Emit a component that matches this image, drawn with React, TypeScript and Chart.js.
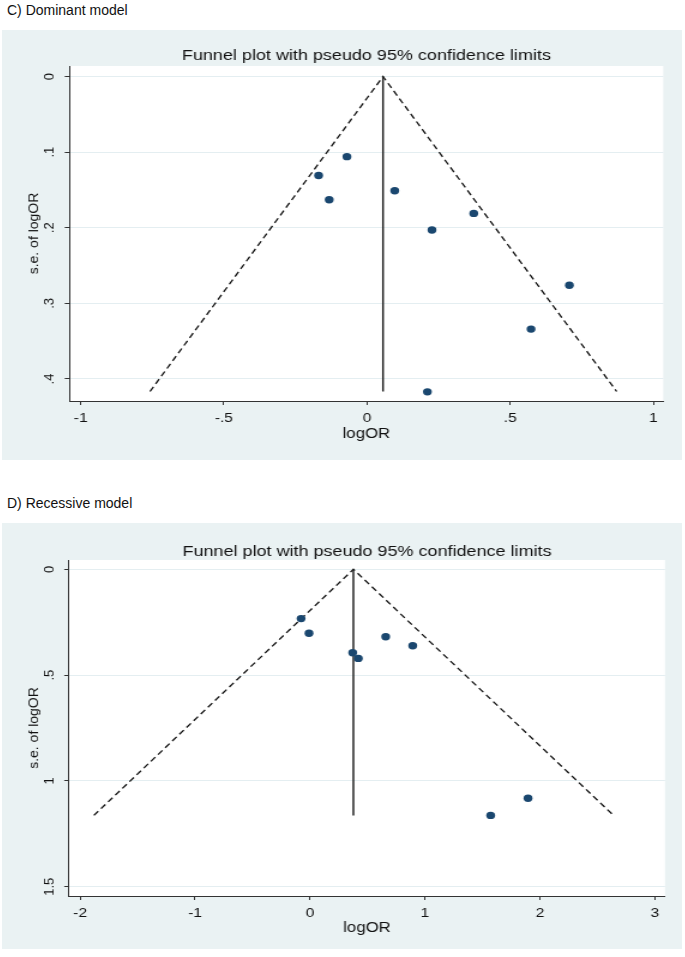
import { useEffect, useRef } from "react";
import { Chart, registerables } from "chart.js";

Chart.register(...registerables);

const FONT = '"Liberation Sans", Arial, Helvetica, sans-serif';
const CANVAS_W = 567;
const STRETCH = 680 / 567;

const plotTitle = "Funnel plot with pseudo 95% confidence limits";
const xAxisTitle = "logOR";
const yAxisTitle = "s.e. of logOR";

// ---- C) Dominant model ----
const domLabel = "C) Dominant model";
const domLogOR = [-0.169, -0.07, -0.132, 0.097, 0.227, 0.373, 0.707, 0.573, 0.211];
const domSE = [0.131, 0.106, 0.163, 0.151, 0.203, 0.181, 0.276, 0.334, 0.417];
const domPooledX = [0.056, 0.056];
const domPooledSE = [0, 0.4165];
const domLimitX = [-0.758, 0.056, 0.872];
const domLimitSE = [0.4165, 0, 0.4165];
const domXTicks = [-1, -0.5, 0, 0.5, 1];
const domXTickLabels = ["-1", "-.5", "0", ".5", "1"];
const domYTicks = [0, 0.1, 0.2, 0.3, 0.4];
const domYTickLabels = ["0", ".1", ".2", ".3", ".4"];

// ---- D) Recessive model ----
const recLabel = "D) Recessive model";
const recLogOR = [-0.078, -0.009, 0.371, 0.42, 0.658, 0.893, 1.571, 1.896];
const recSE = [0.233, 0.302, 0.394, 0.421, 0.319, 0.361, 1.163, 1.082];
const recPooledX = [0.377, 0.377];
const recPooledSE = [0, 1.163];
const recLimitX = [-1.88, 0.377, 2.64];
const recLimitSE = [1.163, 0, 1.163];
const recXTicks = [-2, -1, 0, 1, 2, 3];
const recXTickLabels = ["-2", "-1", "0", "1", "2", "3"];
const recYTicks = [0, 0.5, 1, 1.5];
const recYTickLabels = ["0", ".5", "1", "1.5"];

type Panel = {
  x: number[];
  se: number[];
  pooledX: number[];
  pooledSE: number[];
  limitX: number[];
  limitSE: number[];
  xTicks: number[];
  xTickLabels: string[];
  yTicks: number[];
  yTickLabels: string[];
  xMin: number;
  xMax: number;
  yMin: number;
  yMax: number;
  height: number;
  padTop: number;
  padRight: number;
  yAxisW: number;
  xAxisH: number;
  xTitlePadBottom: number;
  titleBaseline: number;
};

const domPanel: Panel = {
  x: domLogOR,
  se: domSE,
  pooledX: domPooledX,
  pooledSE: domPooledSE,
  limitX: domLimitX,
  limitSE: domLimitSE,
  xTicks: domXTicks,
  xTickLabels: domXTickLabels,
  yTicks: domYTicks,
  yTickLabels: domYTickLabels,
  xMin: -1.039,
  xMax: 1.035,
  yMin: -0.0139,
  yMax: 0.4291,
  height: 430,
  padTop: 36,
  padRight: 15.6,
  yAxisW: 56.3,
  xAxisH: 59,
  xTitlePadBottom: 17.6,
  titleBaseline: 30,
};

const recPanel: Panel = {
  x: recLogOR,
  se: recSE,
  pooledX: recPooledX,
  pooledSE: recPooledSE,
  limitX: recLimitX,
  limitSE: recLimitSE,
  xTicks: recXTicks,
  xTickLabels: recXTickLabels,
  yTicks: recYTicks,
  yTickLabels: recYTickLabels,
  xMin: -2.096,
  xMax: 3.087,
  yMin: -0.044,
  yMax: 1.544,
  height: 426,
  padTop: 37,
  padRight: 14.2,
  yAxisW: 55.9,
  xAxisH: 53,
  xTitlePadBottom: 12.5,
  titleBaseline: 33,
};

const BG = "#eaf2f3";
const GRID = "#e4eef1";
const AXIS = "#333333";
const TEXT = "#111111";
const DOT = "#1a476f";

function lookup(ticks: number[], labels: string[], v: number) {
  const i = ticks.findIndex((t) => Math.abs(t - v) < 1e-9);
  return i >= 0 ? labels[i] : "";
}

// rotated text drawn un-stretched (counter the horizontal CSS stretch)
function drawRotated(ctx: any, text: string, x: number, y: number, size: number) {
  ctx.save();
  ctx.translate(x, y);
  ctx.scale(1 / STRETCH, 1);
  ctx.rotate(-Math.PI / 2);
  ctx.font = `${size}px ${FONT}`;
  ctx.fillStyle = TEXT;
  ctx.textAlign = "center";
  ctx.textBaseline = "alphabetic";
  ctx.fillText(text, 0, 0);
  ctx.restore();
}

const stataPlugin = {
  id: "stataLook",
  beforeDraw(chart: any) {
    const { ctx, chartArea: a, width, height } = chart;
    ctx.save();
    ctx.fillStyle = BG;
    ctx.fillRect(0, 0, width, height);
    ctx.fillStyle = "#ffffff";
    ctx.fillRect(a.left, a.top, a.right - a.left, a.bottom - a.top);
    ctx.restore();
  },
  afterDraw(chart: any, _args: any, opts: any) {
    const { ctx, chartArea: a } = chart;
    ctx.save();
    ctx.font = `15px ${FONT}`;
    ctx.fillStyle = TEXT;
    ctx.textAlign = "center";
    ctx.textBaseline = "alphabetic";
    ctx.fillText(opts.text, (a.left + a.right) / 2, opts.baseline);
    ctx.restore();

    // y tick labels, from the library's own y scale
    const ys = chart.scales.y;
    for (const t of ys.ticks) {
      const py = ys.getPixelForValue(t.value);
      drawRotated(ctx, lookup(opts.yTicks, opts.yTickLabels, t.value), 42.8, py, 13);
    }
    // y axis title
    drawRotated(ctx, opts.yTitle, 29.6, (a.top + a.bottom) / 2, 14);
  },
};

function makeConfig(p: Panel): any {
  return {
    type: "scatter",
    data: {
      datasets: [
        {
          label: "studies",
          data: p.x.map((x, i) => ({ x, y: p.se[i] })),
          backgroundColor: DOT,
          borderColor: DOT,
          borderWidth: 0,
          pointRadius: 3.7,
          pointHoverRadius: 3.7,
          showLine: false,
        },
        {
          label: "pooled",
          data: p.pooledX.map((x, i) => ({ x, y: p.pooledSE[i] })),
          borderColor: "#262626",
          borderWidth: 1.5,
          pointRadius: 0,
          showLine: true,
          fill: false,
        },
        {
          label: "limits",
          data: p.limitX.map((x, i) => ({ x, y: p.limitSE[i] })),
          borderColor: "#111111",
          borderWidth: 1.3,
          borderDash: [5.5, 3.5],
          pointRadius: 0,
          showLine: true,
          fill: false,
        },
      ],
    },
    options: {
      responsive: false,
      animation: false,
      devicePixelRatio: 1,
      layout: { padding: { top: p.padTop, right: p.padRight, left: 0, bottom: 0 } },
      plugins: {
        legend: { display: false },
        tooltip: { enabled: false },
        title: { display: false },
        stataLook: {
          text: plotTitle,
          baseline: p.titleBaseline,
          yTicks: p.yTicks,
          yTickLabels: p.yTickLabels,
          yTitle: yAxisTitle,
        },
      },
      scales: {
        x: {
          type: "linear",
          min: p.xMin,
          max: p.xMax,
          afterBuildTicks: (s: any) => {
            s.ticks = p.xTicks.map((v) => ({ value: v }));
          },
          afterFit: (s: any) => {
            s.height = p.xAxisH;
          },
          ticks: {
            autoSkip: false,
            maxRotation: 0,
            minRotation: 0,
            padding: 5.2,
            color: TEXT,
            font: { family: FONT, size: 13 },
            callback: (v: any) => lookup(p.xTicks, p.xTickLabels, Number(v)),
          },
          grid: {
            drawOnChartArea: false,
            drawTicks: true,
            tickLength: 4,
            tickColor: AXIS,
            tickWidth: 1,
          },
          border: { display: true, color: AXIS, width: 1 },
          title: {
            display: true,
            text: xAxisTitle,
            color: TEXT,
            font: { family: FONT, size: 14 },
            padding: { top: 0, bottom: p.xTitlePadBottom },
          },
        },
        y: {
          type: "linear",
          reverse: true,
          min: p.yMin,
          max: p.yMax,
          afterBuildTicks: (s: any) => {
            s.ticks = p.yTicks.map((v) => ({ value: v }));
          },
          afterFit: (s: any) => {
            s.width = p.yAxisW;
          },
          ticks: {
            display: false,
            autoSkip: false,
          },
          grid: {
            color: GRID,
            lineWidth: 1,
            drawTicks: true,
            tickLength: 4,
            tickColor: AXIS,
            tickWidth: 1,
          },
          border: { display: true, color: AXIS, width: 1 },
          title: { display: false },
        },
      },
    },
    plugins: [stataPlugin],
  };
}

function FunnelChart({ panel, top }: { panel: Panel; top: number }) {
  const ref = useRef<HTMLCanvasElement | null>(null);
  useEffect(() => {
    if (!ref.current) return;
    const chart = new Chart(ref.current, makeConfig(panel));
    return () => chart.destroy();
  }, [panel]);
  return (
    <div
      style={{
        position: "absolute",
        left: 2,
        top,
        width: CANVAS_W,
        height: panel.height,
        transform: `scaleX(${STRETCH})`,
        transformOrigin: "0 0",
      }}
    >
      <canvas
        ref={ref}
        width={CANVAS_W}
        height={panel.height}
        style={{ display: "block", width: CANVAS_W, height: panel.height }}
      />
    </div>
  );
}

export default function App() {
  const labelStyle: any = {
    position: "absolute",
    left: 7,
    fontFamily: FONT,
    fontSize: 14,
    lineHeight: "18px",
    color: TEXT,
    whiteSpace: "nowrap",
  };
  return (
    <div
      style={{
        position: "absolute",
        left: 0,
        top: 0,
        width: 685,
        height: 957,
        background: "#ffffff",
        overflow: "hidden",
      }}
    >
      <div style={{ ...labelStyle, top: 1 }}>{domLabel}</div>
      <FunnelChart panel={domPanel} top={30} />
      <div style={{ ...labelStyle, top: 494 }}>{recLabel}</div>
      <FunnelChart panel={recPanel} top={523} />
    </div>
  );
}
